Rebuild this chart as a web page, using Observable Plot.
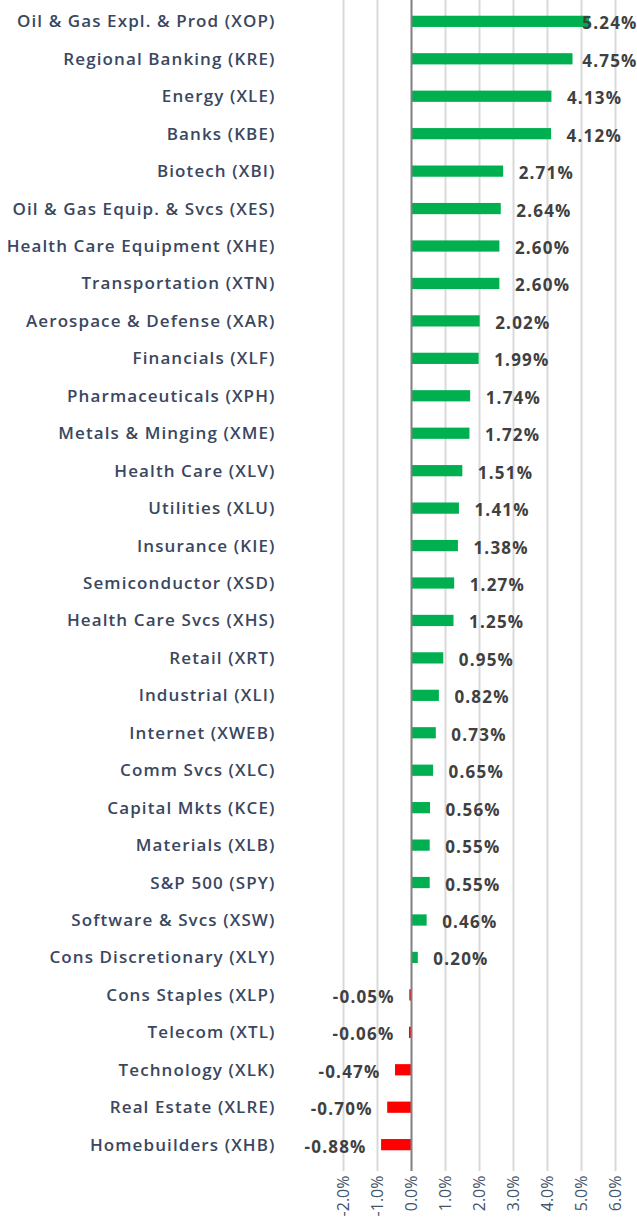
<!DOCTYPE html>
<html>
<head>
<meta charset="utf-8">
<script src="https://cdn.jsdelivr.net/npm/d3@7"></script>
<script src="https://cdn.jsdelivr.net/npm/@observablehq/plot@0.6"></script>
<style>
  html, body { margin: 0; padding: 0; background: #fff; overflow: hidden; }
  #chart svg { display: block; }
  #chart g[aria-label="y-axis tick label"] { letter-spacing: 1.1px; }
  #chart g[aria-label="text"] { letter-spacing: 1.2px; }
</style>
</head>
<body>
<div id="chart"></div>
<script>
const categories = [
  "Oil & Gas Expl. & Prod (XOP)",
  "Regional Banking (KRE)",
  "Energy (XLE)",
  "Banks (KBE)",
  "Biotech (XBI)",
  "Oil & Gas Equip. & Svcs (XES)",
  "Health Care Equipment (XHE)",
  "Transportation (XTN)",
  "Aerospace & Defense (XAR)",
  "Financials (XLF)",
  "Pharmaceuticals (XPH)",
  "Metals & Minging (XME)",
  "Health Care (XLV)",
  "Utilities (XLU)",
  "Insurance (KIE)",
  "Semiconductor (XSD)",
  "Health Care Svcs (XHS)",
  "Retail (XRT)",
  "Industrial (XLI)",
  "Internet (XWEB)",
  "Comm Svcs (XLC)",
  "Capital Mkts (KCE)",
  "Materials (XLB)",
  "S&P 500 (SPY)",
  "Software & Svcs (XSW)",
  "Cons Discretionary (XLY)",
  "Cons Staples (XLP)",
  "Telecom (XTL)",
  "Technology (XLK)",
  "Real Estate (XLRE)",
  "Homebuilders (XHB)"
];
const values = [
  5.24, 4.75, 4.13, 4.12, 2.71, 2.64, 2.60, 2.60, 2.02, 1.99,
  1.74, 1.72, 1.51, 1.41, 1.38, 1.27, 1.25, 0.95, 0.82, 0.73,
  0.65, 0.56, 0.55, 0.55, 0.46, 0.20, -0.05, -0.06, -0.47, -0.70, -0.88
];
const xTicks = [-2, -1, 0, 1, 2, 3, 4, 5, 6];

const data = categories.map((c, i) => ({name: c, value: values[i]}));
const fmt = v => v.toFixed(2) + "%";
const pos = data.filter(d => d.value >= 0 && d.value < 4.5);
const posEdge = data.filter(d => d.value >= 4.5);
const neg = data.filter(d => d.value < 0);

const valueStyle = {fontSize: 17, fontWeight: "bold", fill: "#404040", fontFamily: "'Open Sans', sans-serif"};

const chart = Plot.plot({
  width: 637,
  height: 1217,
  marginLeft: 343,
  marginRight: 22,
  marginTop: 3,
  marginBottom: 54,
  x: {domain: [-2, 6]},
  y: {domain: categories, paddingInner: 0.7, paddingOuter: 0.34, round: false},
  style: {background: "#fff", overflow: "hidden"},
  marks: [
    Plot.ruleX(xTicks.filter(t => t !== 0), {stroke: "#d9d9d9", strokeWidth: 2, insetTop: -3, insetBottom: -8}),
    Plot.barX(data, {
      x: "value", y: "name",
      fill: d => d.value >= 0 ? "#00b050" : "#ff0000"
    }),
    Plot.ruleX([0], {stroke: "#808080", strokeWidth: 2, insetTop: -3, insetBottom: -8}),
    Plot.text(pos, {x: "value", y: "name", text: d => fmt(d.value), textAnchor: "start", dx: 15, dy: 2, ...valueStyle}),
    Plot.text(posEdge, {x: () => 6.65, y: "name", text: d => fmt(d.value), textAnchor: "end", dy: 2, ...valueStyle}),
    Plot.text(neg, {x: "value", y: "name", text: d => fmt(d.value), textAnchor: "end", dx: -15, dy: 2, ...valueStyle}),
    Plot.axisX(xTicks, {
      tickSize: 0, tickPadding: 12, tickRotate: -90,
      tickFormat: d => d.toFixed(1) + "%",
      fontSize: 16, fill: "#44546a", fontFamily: "'Open Sans', sans-serif",
      label: null
    }),
    Plot.axisY({
      tickSize: 0, tickPadding: 68, fontSize: 17, fontWeight: 600,
      fill: "#3a4760", fontFamily: "'Open Sans', sans-serif", label: null
    })
  ]
});
document.getElementById("chart").appendChild(chart);
</script>
</body>
</html>
